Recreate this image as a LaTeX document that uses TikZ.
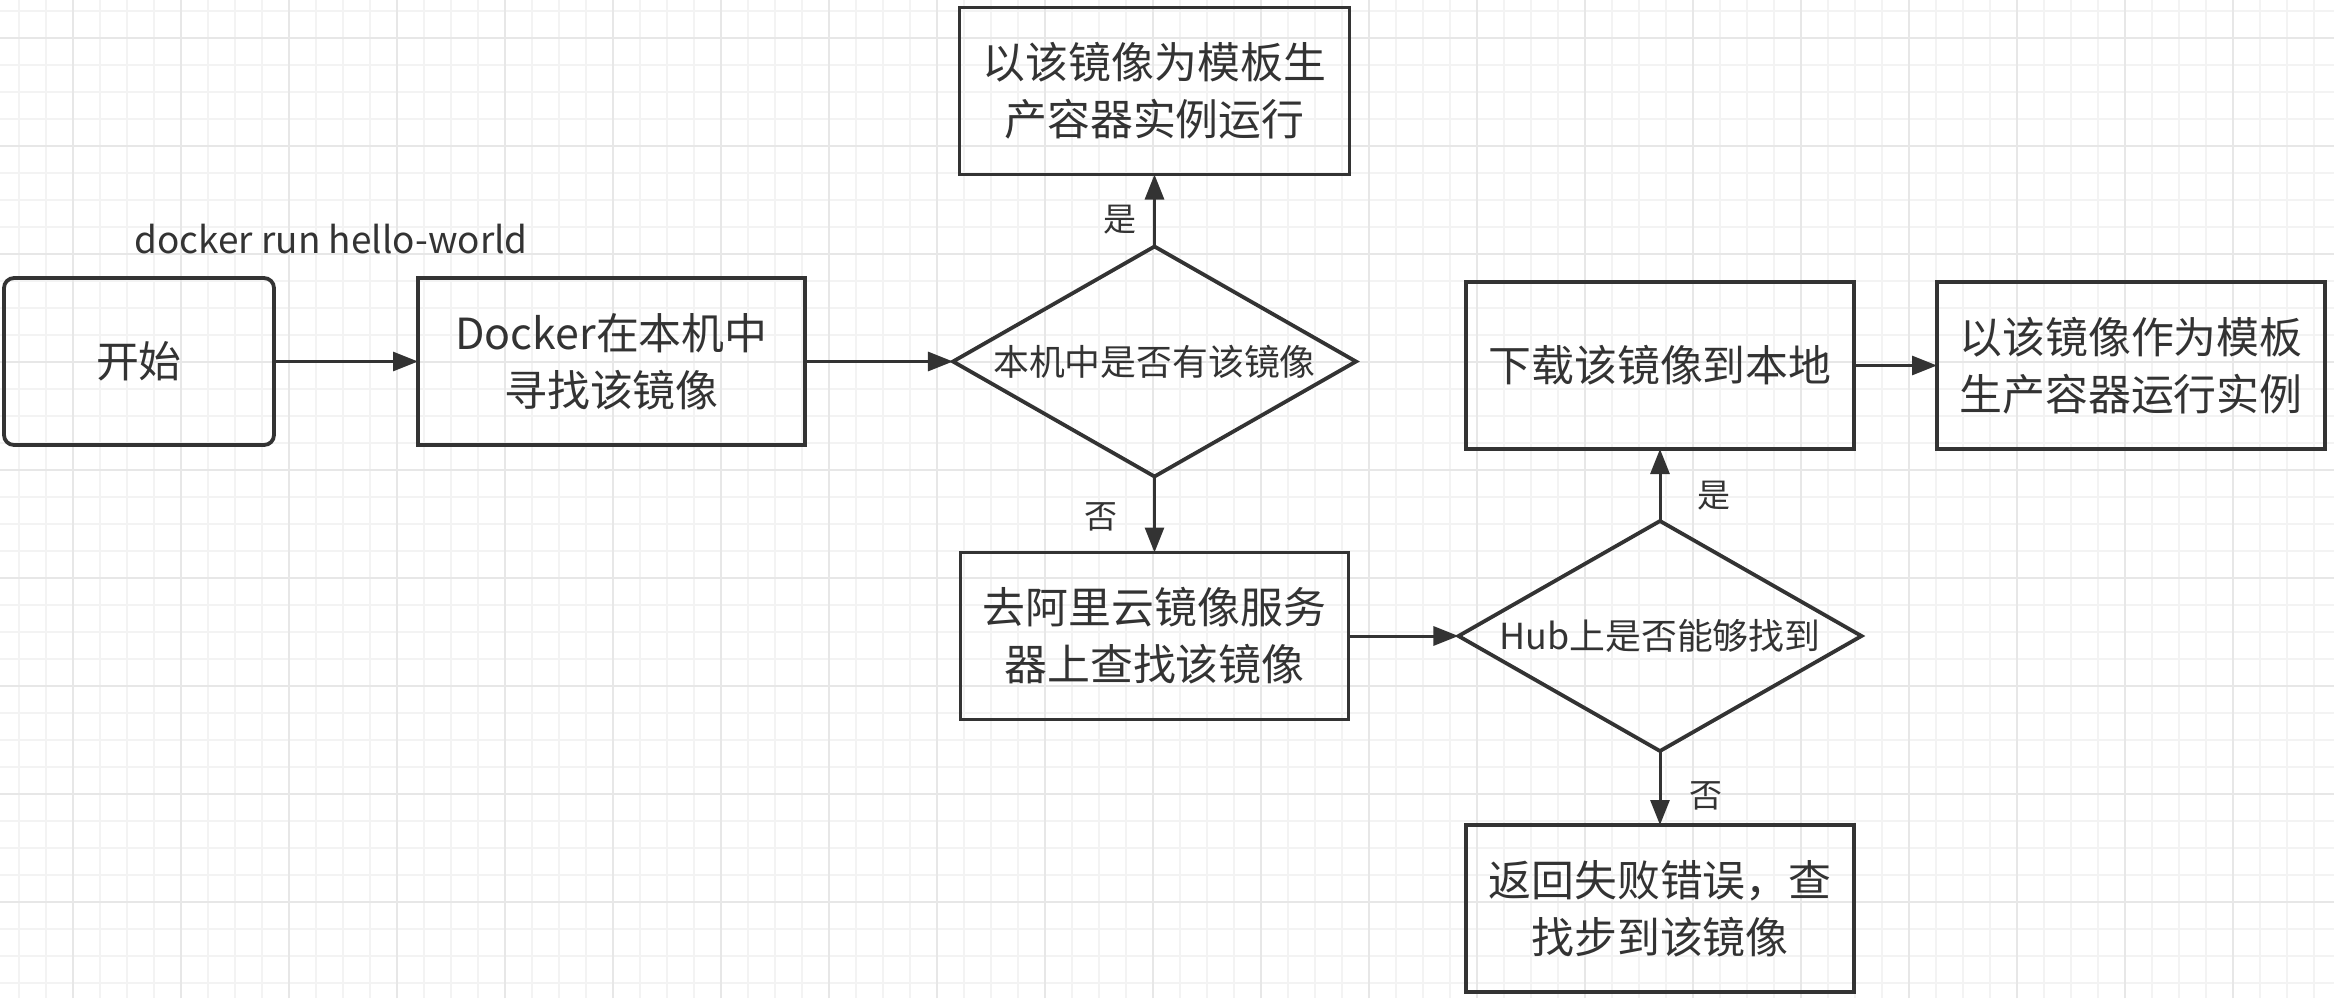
\documentclass[tikz,border=0pt]{standalone}
\usepackage{fontspec}
\setmainfont{Noto Sans CJK SC}
\usetikzlibrary{arrows.meta, positioning, shapes.geometric}
\definecolor{ink}{HTML}{333333}
\definecolor{gridmajor}{HTML}{E7E7E7}
\definecolor{gridminor}{HTML}{F3F3F3}

\begin{document}
\begin{tikzpicture}[
  box/.style={
    rectangle,
    draw=ink,
    line width=0.038cm,
    minimum width=3.88cm,
    minimum height=1.67cm,
    inner sep=0pt,
    outer sep=0pt,
    align=center,
    text=ink,
    font=\fontsize{12.2}{16.2}\selectfont
  },
  startbox/.style={
    box,
    rounded corners=0.1cm,
    minimum width=2.70cm
  },
  decision/.style={
    diamond,
    draw=ink,
    line width=0.038cm,
    minimum width=4.03cm,
    minimum height=2.30cm,
    aspect=1.75,
    inner sep=0pt,
    outer sep=0pt,
    text=ink,
    font=\fontsize{10.2}{12}\selectfont
  },
  answer/.style={text=ink, font=\fontsize{9.4}{11}\selectfont},
  command/.style={text=ink, inner sep=0pt, font=\fontsize{10.5}{12}\selectfont},
  arrow/.style={-{Triangle[length=0.25cm, width=0.19cm]}, draw=ink, line width=0.03cm}
]

\useasboundingbox (0,0) rectangle (23.34,-9.98);

% ============================================================
% Background grid
% ============================================================

\begin{scope}[shift={(0.19,-0.11)}]
  \draw[gridminor, line width=0.02cm, step=0.27] (-0.19,-9.87) grid (23.15,0.11);
\end{scope}
\begin{scope}[shift={(0.73,-0.38)}]
  \draw[gridmajor, line width=0.025cm, step=1.08] (-0.73,-9.60) grid (22.61,0.38);
\end{scope}

% ============================================================
% Local lookup
% ============================================================

\node[startbox] at (1.39,-3.615) (start) {开始};
\node[command, anchor=base west] at (1.34,-2.53) (cmd) {docker run hello-world};

\node[box, minimum width=3.87cm, right=1.44cm of start] (search) {Docker在本机中\\寻找该镜像};
\node[decision, right=1.48cm of search] (local) {本机中是否有该镜像};
\node[box, minimum width=3.90cm, above=0.72cm of local] (runlocal) {以该镜像为模板生\\产容器实例运行};
\node[box, below=0.76cm of local] (aliyun) {去阿里云镜像服务\\器上查找该镜像};

\draw[arrow] (start) -- (search);
\draw[arrow] (search) -- (local);
\draw[arrow] (local) -- node[answer, left, pos=0.38, xshift=-0.05cm] {是} (runlocal);
\draw[arrow] (local) -- node[answer, left, pos=0.53, xshift=-0.24cm] {否} (aliyun);

% ============================================================
% Remote lookup
% ============================================================

\node[decision, right=1.10cm of aliyun] (hub) {Hub上是否能够找到};
\node[box, above=0.72cm of hub] (pull) {下载该镜像到本地};
\node[box, right=0.83cm of pull] (runpulled) {以该镜像作为模板\\生产容器运行实例};
\node[box, below=0.74cm of hub] (fail) {返回失败错误，查\\找步到该镜像};

\draw[arrow] (aliyun) -- (hub);
\draw[arrow] (hub) -- node[answer, right, pos=0.35, xshift=0.24cm] {是} (pull);
\draw[arrow] (pull) -- (runpulled);
\draw[arrow] (hub) -- node[answer, right, pos=0.6, xshift=0.16cm] {否} (fail);

\end{tikzpicture}
\end{document}
